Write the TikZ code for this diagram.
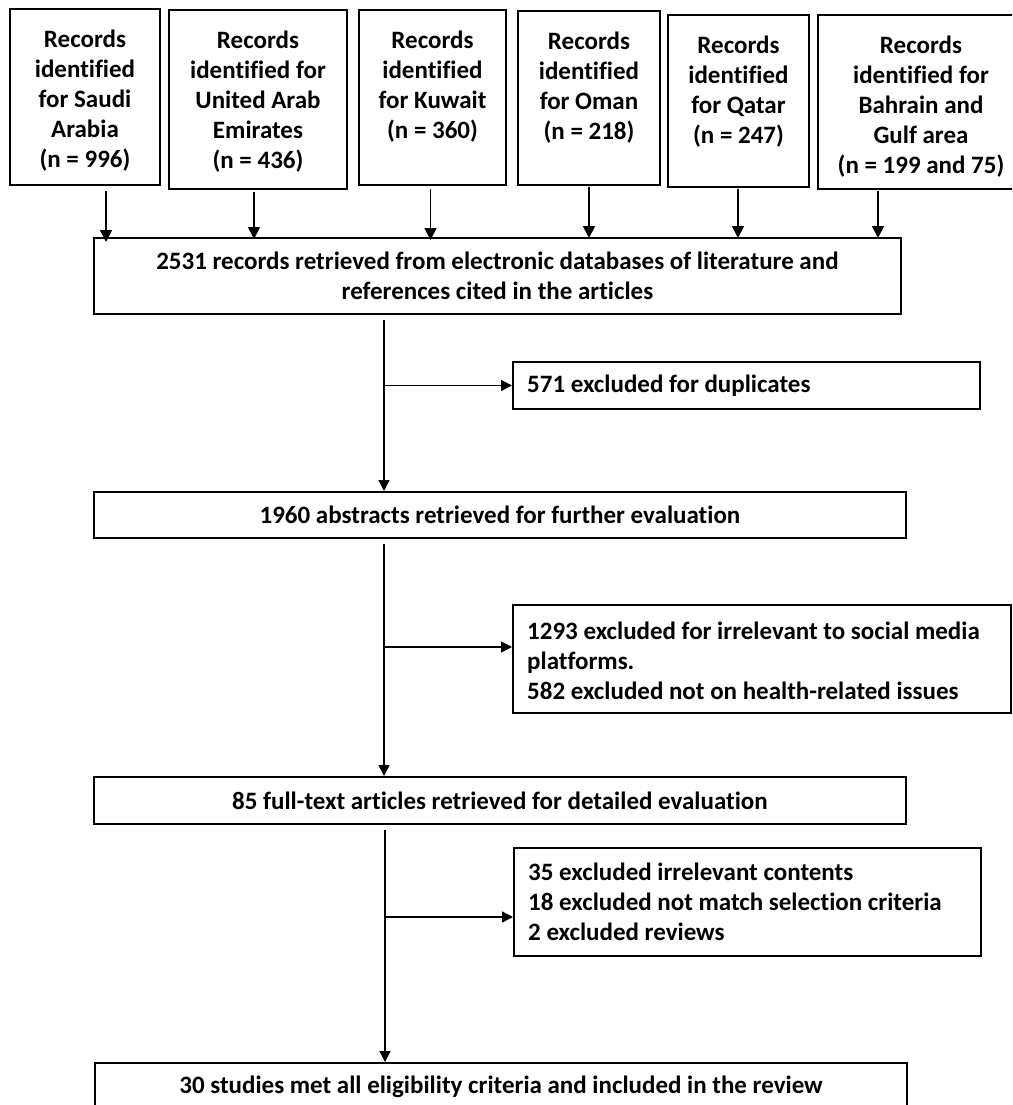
\documentclass[tikz,border=0pt]{standalone}
\usepackage{fontspec}
\setmainfont{Carlito}[Ligatures=NoCommon]
\usetikzlibrary{arrows.meta,calc}
\begin{document}
\begin{tikzpicture}[x=1pt,y=-1pt,
  box/.style={draw, line width=2pt, anchor=north west, inner sep=0pt},
  txt/.style={font=\fontsize{25}{30}\selectfont\bfseries, inner sep=0pt, align=center},
  ltxt/.style={font=\fontsize{25}{30}\selectfont\bfseries, inner sep=0pt, align=left, anchor=west},
  toparr/.style={line width=1.8pt, -{Triangle[length=12pt,width=12pt]}},
  arr/.style={line width=1.3pt, -{Triangle[length=11pt,width=11pt]}},
  ln/.style={line width=1.3pt}]
\useasboundingbox (0,0) rectangle (1012,1105);
\clip (0,0) rectangle (1012,1105);
% top boxes
\node[box, minimum width=150pt, minimum height=176pt] (b1) at (9,8) {};
\node[box, minimum width=178pt, minimum height=179pt] (b2) at (168,9) {};
\node[box, minimum width=147pt, minimum height=175pt] (b3) at (358,9) {};
\node[box, minimum width=142pt, minimum height=174pt] (b4) at (517,10) {};
\node[box, minimum width=141pt, minimum height=172pt] (b5) at (667,14) {};
\node[box, minimum width=206pt, minimum height=174pt] (b6) at (817,14) {};
\node[txt, anchor=north] (t1) at ($(b1.north)+(0,22)$) {Records\\identified\\for Saudi\\Arabia\\(n = 996)};
\node[txt, anchor=north] (t2) at ($(b2.north)+(0,22)$) {Records\\identified for\\United Arab\\Emirates\\(n = 436)};
\node[txt, anchor=north] (t3) at ($(b3.north)+(0,22)$) {Records\\identified\\for Kuwait\\(n = 360)};
\node[txt, anchor=north] (t4) at ($(b4.north)+(0,22)$) {Records\\identified\\for Oman\\(n = 218)};
\node[txt, anchor=north] (t5) at ($(b5.north)+(0,22)$) {Records\\identified\\for Qatar\\(n = 247)};
\node[txt, anchor=north] (t6) at ($(b6.north)+(0,22)$) {Records\\identified for\\Bahrain and\\Gulf area\\(n = 199 and 75)};
% main boxes
\node[box, minimum width=807pt, minimum height=76pt] (m1) at (93,237) {};
\node[txt] (tm1) at (m1.center) {2531 records retrieved from electronic databases of literature and\\references cited in the articles};
\node[box, minimum width=812pt, minimum height=46pt] (m2) at (93,491) {};
\node[txt] (tm2) at (m2.center) {1960 abstracts retrieved for further evaluation};
\node[box, minimum width=812pt, minimum height=47pt] (m3) at (93,776) {};
\node[txt] (tm3) at (m3.center) {85 full-text articles retrieved for detailed evaluation};
\node[box, minimum width=812pt, minimum height=70pt] (m4) at (94,1062) {};
\node[txt, anchor=base] (tm4) at ($(m4.north)+(0,31)$) {30 studies met all eligibility criteria and included in the review};
% exclusion boxes
\node[box, minimum width=467pt, minimum height=47pt] (e1) at (512,361) {};
\node[ltxt] (te1) at ($(e1.west)+(15,0)$) {571 excluded for duplicates};
\node[box, minimum width=498pt, minimum height=108pt] (e2) at (512,604) {};
\node[ltxt] (te2) at ($(e2.west)+(15,2)$) {1293 excluded for irrelevant to social media\\platforms.\\582 excluded not on health-related issues};
\node[box, minimum width=467pt, minimum height=108pt] (e3) at (513,847) {};
\node[ltxt] (te3) at ($(e3.west)+(15,0)$) {35 excluded irrelevant contents\\18 excluded not match selection criteria\\2 excluded reviews};
% top arrows
\draw[toparr] ([xshift=21pt,yshift=-5pt]b1.south) -- ([xshift=21pt,yshift=-5pt]b1.south |- m1.north);
\draw[toparr] ([xshift=-4pt,yshift=-2pt]b2.south) -- ([xshift=-4pt,yshift=-2pt]b2.south |- m1.north);
\draw[toparr] ([xshift=-2pt,yshift=-3pt]b3.south) -- ([xshift=-2pt,yshift=-3pt]b3.south |- m1.north);
\draw[toparr] ([yshift=-1pt]b4.south) -- ([yshift=-1pt]b4.south |- m1.north);
\draw[toparr] ([xshift=-0.5pt,yshift=-1pt]b5.south) -- ([xshift=-0.5pt,yshift=-1pt]b5.south |- m1.north);
\draw[toparr] ([xshift=-43pt,yshift=-1pt]b6.south) -- ([xshift=-43pt,yshift=-1pt]b6.south |- m1.north);
% spine
\coordinate (s1) at (384,320);
\coordinate (s2) at (384,544);
\coordinate (s3) at (385,830);
\draw[arr] (s1) -- (s1 |- m2.north);
\draw[arr] (s1 |- e1.west) -- (e1.west);
\draw[arr] (s2) -- (s2 |- m3.north);
\draw[arr] (384,647) -- (e2.west |- 0,647);
\draw[arr] (s3) -- (s3 |- m4.north);
\draw[arr] (385,917) -- (e3.west |- 0,917);
\end{tikzpicture}
\end{document}
